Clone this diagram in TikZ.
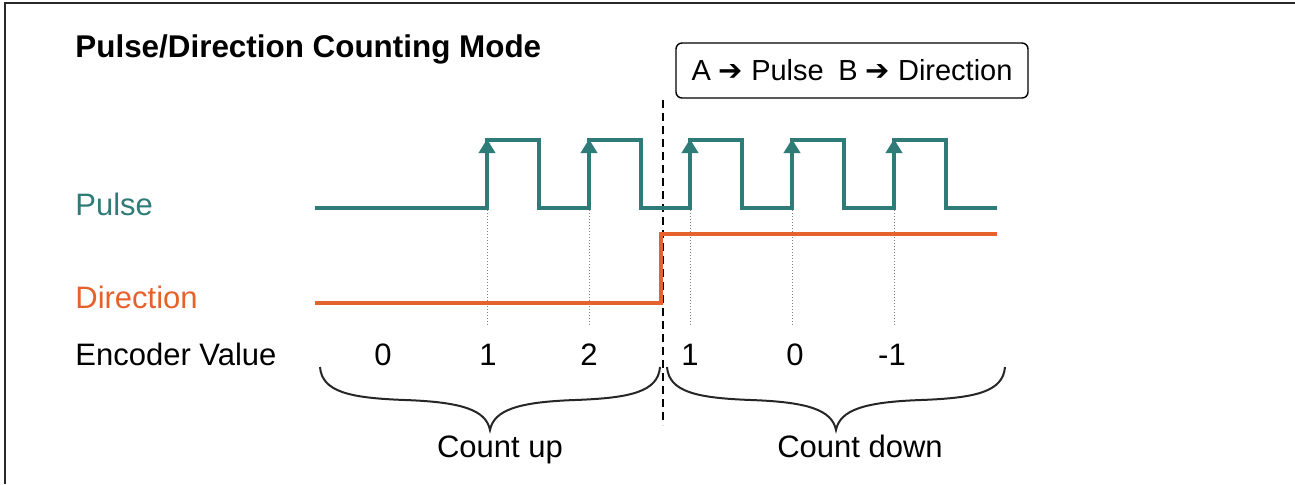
\documentclass[tikz,border=0pt]{standalone}
\usepackage{fontspec}
\setmainfont{Liberation Sans}
\newfontfamily\arrowfont{DejaVu Sans}
\usetikzlibrary{arrows.meta}
\usetikzlibrary{positioning}
\definecolor{pulsecol}{RGB}{46,123,120}
\definecolor{dircol}{RGB}{230,98,44}
\definecolor{framecol}{RGB}{40,40,40}

\begin{document}
\begin{tikzpicture}[x=0.5pt,y=-0.5pt,line join=miter,
					font=\fontsize{15.5}{18}\selectfont]
					\tikzstyle{lbl}=[inner sep=0pt,anchor=base west]
					\tikzstyle{val}=[inner sep=0pt,anchor=base]
					\tikzstyle{pulseline}=[draw=pulsecol,line width=2pt]
					\tikzstyle{dirline}=[draw=dircol,line width=2pt]
					\tikzstyle{edgetip}=[pulsecol,line width=2pt,-{Triangle[length=7pt,width=8pt]}]
					\tikzstyle{guide}=[gray,line width=0.5pt,densely dotted]
					\tikzstyle{brace}=[black!85,line width=1pt]
					
					\useasboundingbox (0,0) rectangle (1295,484);
					\draw[framecol,line width=1pt] (5,484) -- (5,3) -- (1295,3);
					
					% titles
					\node[lbl,font=\fontsize{15.7}{18}\selectfont\bfseries] (title) at (75,57) {Pulse/Direction Counting Mode};
					\node[draw,rounded corners=3pt,line width=0.7pt,minimum width=176pt,minimum height=27.5pt,inner sep=0pt,
					font=\fontsize{14.5}{17}\selectfont]
					(mode) at (852,70.5) {A {\arrowfont ➔} Pulse\hspace{0.5em}B {\arrowfont ➔} Direction};
					
					% signal names
					\node[lbl,text=pulsecol] (lblPulse) at (75,215) {Pulse};
					\node[lbl,text=dircol]   (lblDir)   at (75,308) {Direction};
					\node[lbl]               (lblEnc)   at (75,365) {Encoder Value};
					
					% change of direction
					\coordinate (split top) at (663,100);
					\coordinate (split bot) at (663,425);
					\draw[black,line width=0.7pt,dash pattern=on 4pt off 2.5pt] (split top) -- (split bot);
					
					% guides and rising edges
					\foreach \x in {487,589,690,792,894} {
						\draw[guide] (\x,210) -- (\x,325);
					}
					\draw[pulseline] (315,208)
					\foreach \x in {487,589,690,792,894} { -- (\x,208) -- (\x,140) -- ++(52,0) -- ++(0,68) }
					-- (997,208);
					\foreach \x in {487,589,690,792,894} {
						\draw[edgetip] (\x,180) -- (\x,139);
					}
					\draw[dirline] (315,303) -- (661,303) -- (661,234) -- (997,234);
					
					% encoder values
					\node[val] (v0) at (383,365) {0};
					\node[val] (v1) at (488,365) {1};
					\node[val] (v2) at (589,365) {2};
					\node[val] (v3) at (690,365) {1};
					\node[val] (v4) at (795,365) {0};
					\node[val] (v5) at (892,365) {-1};
					
					% braces
					\coordinate (up a) at (320,367);
					\coordinate (up tip) at (490,430);
					\coordinate (up b) at (660,367);
					\coordinate (dn a) at (667,367);
					\coordinate (dn tip) at (836,430);
					\coordinate (dn b) at (1005,367);
					\draw[brace] (up a) .. controls (322,392) and (350,398) .. (405,400)
					.. controls (462,402) and (486,410) .. (up tip)
					.. controls (494,410) and (518,402) .. (575,400)
					.. controls (630,398) and (658,392) .. (up b);
					\draw[brace] (dn a) .. controls (669,392) and (697,398) .. (751,400)
					.. controls (808,402) and (832,410) .. (dn tip)
					.. controls (840,410) and (864,402) .. (921,400)
					.. controls (975,398) and (1003,392) .. (dn b);
					\node[val] (up)   at (500,457) {Count up};
					\node[val] (down) at (860,457) {Count down};
					\end{tikzpicture}
\end{document}
